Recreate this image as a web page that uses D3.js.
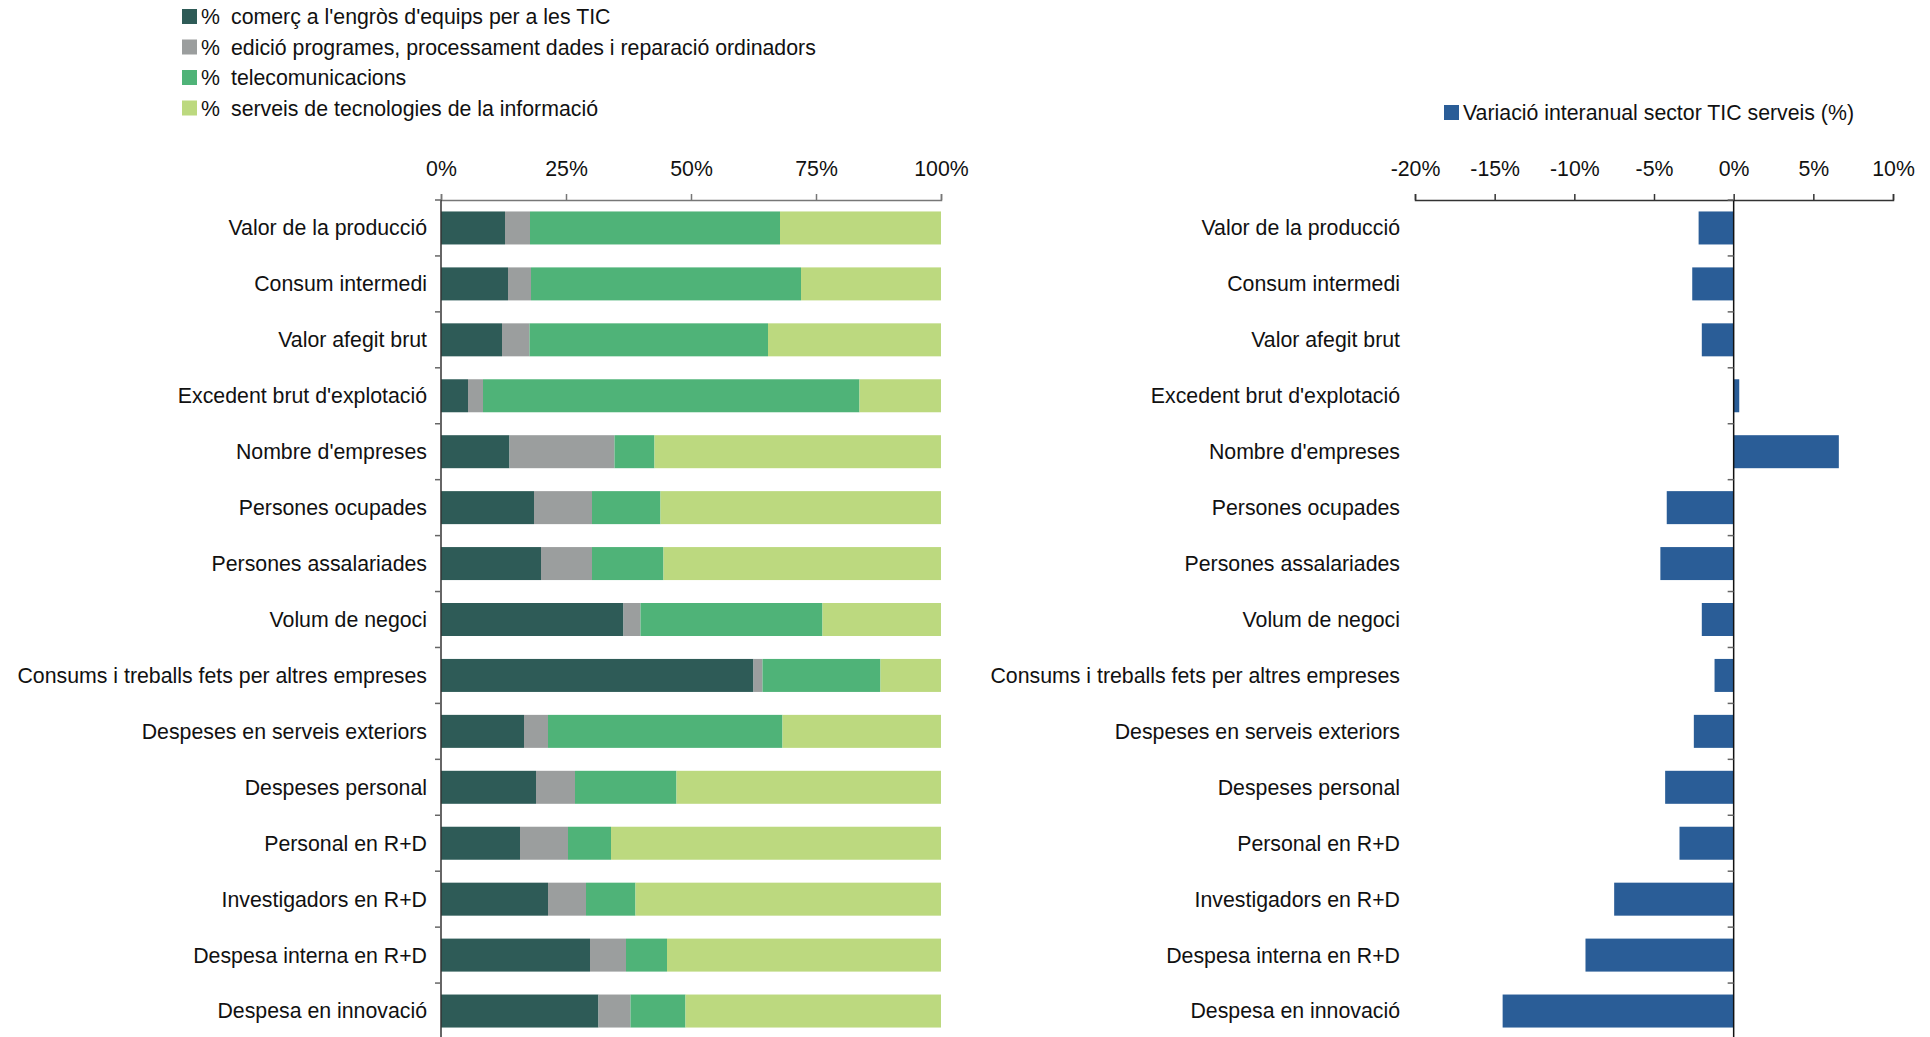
<!DOCTYPE html>
<html>
<head>
<meta charset="utf-8">
<script src="https://cdn.jsdelivr.net/npm/d3@7"></script>
<style>
  html, body { margin: 0; padding: 0; background: #fff; }
  svg text { font-family: "Liberation Sans", Arial, sans-serif; fill: #111; }
</style>
</head>
<body>
<svg id="chart" width="1930" height="1037"></svg>
<script>
// categories (top to bottom)
const categories = [
  "Valor de la producció", "Consum intermedi", "Valor afegit brut",
  "Excedent brut d'explotació", "Nombre d'empreses", "Persones ocupades",
  "Persones assalariades", "Volum de negoci",
  "Consums i treballs fets per altres empreses", "Despeses en serveis exteriors",
  "Despeses personal", "Personal en R+D", "Investigadors en R+D",
  "Despesa interna en R+D", "Despesa en innovació"
];

// stacked shares (%)
const seriesNames = [
  "comerç a l'engròs d'equips per a les TIC",
  "edició programes, processament dades i reparació ordinadors",
  "telecomunicacions",
  "serveis de tecnologies de la informació"
];
const comerc   = [12.8, 13.4, 12.2,  5.4, 13.7, 18.6, 20.0, 36.5, 62.5, 16.6, 19.0, 15.8, 21.4, 29.8, 31.5];
const edicio   = [ 5.0,  4.6,  5.5,  3.0, 21.0, 11.6, 10.2,  3.4,  1.8,  4.8,  7.8,  9.6,  7.6,  7.2,  6.4];
const telecom  = [50.0, 54.0, 47.7, 75.3,  8.0, 13.7, 14.3, 36.4, 23.6, 46.9, 20.3,  8.6,  9.9,  8.2, 11.0];
const serveis  = [32.2, 28.0, 34.6, 16.3, 57.3, 56.1, 55.5, 23.7, 12.1, 31.7, 52.9, 66.0, 61.1, 54.8, 51.1];

// year-on-year change (%)
const variacioName = "Variació interanual sector TIC serveis (%)";
const variacio = [-2.2, -2.6, -2.0, 0.35, 6.6, -4.2, -4.6, -2.0, -1.2, -2.5, -4.3, -3.4, -7.5, -9.3, -14.5];

const pctTicks = [0, 25, 50, 75, 100];
const varTicks = [-20, -15, -10, -5, 0, 5, 10];

const colors = ["#2e5b57", "#9b9e9e", "#4fb378", "#bcd97f"];
const blue = "#2a5d97";
const FS = 21.3;

const svg = d3.select("#chart");

const rows = categories.map((c, i) => ({
  cat: c, s0: comerc[i], s1: edicio[i], s2: telecom[i], s3: serveis[i]
}));
const stack = d3.stack().keys(["s0", "s1", "s2", "s3"])(rows);

const TOP = 200, BOTTOM = 1039;
const y = d3.scaleBand().domain(categories).range([TOP, BOTTOM])
  .paddingInner(0.41).paddingOuter(0.205);

// ---------- left: stacked 100% bars ----------
const xL = d3.scaleLinear().domain([0, 100]).range([441, 941]);

const gL = svg.append("g");
gL.selectAll("g.layer").data(stack).join("g")
  .attr("class", "layer")
  .attr("fill", (d, i) => colors[i])
  .selectAll("rect").data(d => d).join("rect")
  .attr("x", d => xL(d[0]))
  .attr("width", d => xL(d[1]) - xL(d[0]))
  .attr("y", d => y(d.data.cat))
  .attr("height", y.bandwidth());

// top axis
const axL = svg.append("g").attr("transform", `translate(0,${TOP})`)
  .call(d3.axisTop(xL).tickValues(pctTicks).tickSize(6).tickPadding(18).tickFormat(d => d + "%"));
axL.select(".domain").attr("stroke", "#777").attr("stroke-width", 1.5);
axL.selectAll(".tick line").attr("stroke", "#777").attr("stroke-width", 1.5);
axL.selectAll("text").attr("font-size", FS).attr("fill", "#111");

// left category axis
const bounds = d3.range(categories.length + 1).map(i => TOP + i * y.step());
const gYL = svg.append("g");
gYL.append("line").attr("x1", xL(0)).attr("x2", xL(0)).attr("y1", TOP).attr("y2", BOTTOM)
  .attr("stroke", "#333").attr("stroke-width", 1.5);
gYL.selectAll("line.tk").data(bounds).join("line").attr("class", "tk")
  .attr("x1", xL(0) - 6).attr("x2", xL(0)).attr("y1", d => d).attr("y2", d => d)
  .attr("stroke", "#666").attr("stroke-width", 1.5);
gYL.selectAll("text").data(categories).join("text")
  .attr("x", 427).attr("y", d => y(d) + y.bandwidth() / 2)
  .attr("dy", "0.35em").attr("text-anchor", "end").attr("font-size", FS)
  .text(d => d);

// legend left
const legL = svg.append("g");
seriesNames.forEach((name, i) => {
  const cy = 17 + i * 30.5;
  legL.append("rect").attr("x", 182).attr("y", cy - 8).attr("width", 15).attr("height", 15).attr("fill", colors[i]);
  legL.append("text").attr("x", 201).attr("y", cy).attr("dy", "0.35em").attr("font-size", FS).text("%");
  legL.append("text").attr("x", 231).attr("y", cy).attr("dy", "0.35em").attr("font-size", FS).text(name);
});

// ---------- right: variation bars ----------
const xR = d3.scaleLinear().domain([-20, 10]).range([1415, 1893]);

svg.append("g").selectAll("rect").data(variacio).join("rect")
  .attr("fill", blue)
  .attr("x", d => xR(Math.min(0, d)))
  .attr("width", d => Math.abs(xR(d) - xR(0)))
  .attr("y", (d, i) => y(categories[i]))
  .attr("height", y.bandwidth());

const axR = svg.append("g").attr("transform", `translate(0,${TOP})`)
  .call(d3.axisTop(xR).tickValues(varTicks).tickSize(6).tickPadding(18).tickFormat(d => d + "%"));
axR.select(".domain").attr("stroke", "#333").attr("stroke-width", 1.5);
axR.selectAll(".tick line").attr("stroke", "#333").attr("stroke-width", 1.5);
axR.selectAll("text").attr("font-size", FS).attr("fill", "#111");

const gYR = svg.append("g");
gYR.append("line").attr("x1", xR(0)).attr("x2", xR(0)).attr("y1", TOP).attr("y2", BOTTOM)
  .attr("stroke", "#111").attr("stroke-width", 1.5);
gYR.selectAll("line.tk").data(bounds).join("line").attr("class", "tk")
  .attr("x1", xR(0) - 6).attr("x2", xR(0)).attr("y1", d => d).attr("y2", d => d)
  .attr("stroke", "#666").attr("stroke-width", 1.5);
gYR.selectAll("text").data(categories).join("text")
  .attr("x", 1400).attr("y", d => y(d) + y.bandwidth() / 2)
  .attr("dy", "0.35em").attr("text-anchor", "end").attr("font-size", FS)
  .text(d => d);

// legend right
const legR = svg.append("g");
legR.append("rect").attr("x", 1444).attr("y", 105).attr("width", 15).attr("height", 15).attr("fill", blue);
legR.append("text").attr("x", 1463).attr("y", 113).attr("dy", "0.35em").attr("font-size", FS).text(variacioName);
</script>
</body>
</html>
